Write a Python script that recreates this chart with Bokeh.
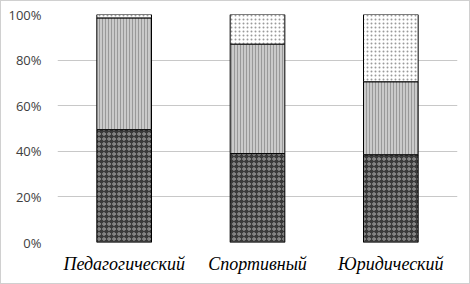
from bokeh.plotting import figure
from bokeh.models import ColumnDataSource, NumeralTickFormatter, FixedTicker, Range1d
from bokeh.embed import file_html
from bokeh.resources import INLINE

categories = ["Педагогический", "Спортивный", "Юридический"]
series_low = [0.495, 0.39, 0.385]
series_mid = [0.49, 0.48, 0.32]
series_top = [0.015, 0.13, 0.295]
y_ticks = [0, 0.2, 0.4, 0.6, 0.8, 1.0]

source = ColumnDataSource(dict(cat=categories, low=series_low, mid=series_mid, top=series_top))

p = figure(x_range=categories, y_range=Range1d(0, 1.0), width=470, height=284,
           output_backend="svg", toolbar_location=None,
           styles={"border": "1px solid #d0d0d0", "box-sizing": "border-box"})
p.min_border_left = 56
p.min_border_right = 14
p.min_border_top = 13
p.min_border_bottom = 43
p.outline_line_color = None

p.vbar_stack(["low", "mid", "top"], x="cat", width=0.41, source=source,
             fill_color=["#3a3a3a", "#cacaca", "#ffffff"],
             hatch_pattern=["ring", "vertical_line", "dot"],
             hatch_color=["#a8a8a8", "#999999", "#9a9a9a"],
             hatch_scale=[5, 3, 4], hatch_weight=[1, 1, 1],
             line_color="#000000", line_width=1)

p.yaxis.ticker = FixedTicker(ticks=y_ticks)
p.yaxis.formatter = NumeralTickFormatter(format="0%")
p.yaxis.axis_line_color = None
p.yaxis.major_tick_line_color = None
p.yaxis.minor_tick_line_color = None
p.yaxis.major_label_text_font = "Open Sans"
p.yaxis.major_label_text_font_size = "13px"
p.yaxis.major_label_text_color = "#404040"
p.yaxis.major_label_standoff = 10

p.xaxis.axis_line_color = None
p.xaxis.major_tick_line_color = None
p.xaxis.major_label_text_font = "Liberation Serif"
p.xaxis.major_label_text_font_style = "italic"
p.xaxis.major_label_text_font_size = "18px"
p.xaxis.major_label_text_color = "#000000"
p.xaxis.major_label_standoff = 5

p.xgrid.grid_line_color = None
p.ygrid.grid_line_color = "#c8c8c8"
p.ygrid.grid_line_width = 1

open("out.html", "w").write(file_html(p, INLINE))
